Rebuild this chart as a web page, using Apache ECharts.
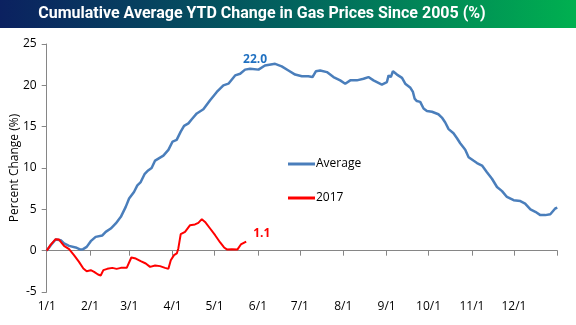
<!DOCTYPE html>
<html><head><meta charset="utf-8">
<script src="https://cdn.jsdelivr.net/npm/echarts@6/dist/echarts.min.js"></script>
<style>html,body{margin:0;padding:0;background:#fff}#c{width:576px;height:325px}</style>
</head><body><div id="c"></div>
<script>
// Day-of-year positions (0 = Jan 1) and values (%)
var avgDays = [0,2.9,6.4,10,12.4,16,20.7,23.8,26,28.6,31.5,35,39.8,42.2,45.8,49.4,53,56.5,58.9,62.4,64.8,67.2,70.1,72.5,75,77.5,83.4,87,90,92.9,95.8,98.2,101.3,103.7,107.3,112,116.8,121.6,126.3,129.9,134.7,138.3,141.8,145.4,151.4,156,163.3,168,172.8,177.6,182.4,187,190,192.4,195.5,200.3,205,209.8,213.4,217,221.7,226.5,230,233.6,239.6,243.2,244.4,246,247.5,250.4,254,256.3,260,261.8,263,264.6,267,269.4,271.8,273,275.4,280,282.5,284.9,287.3,290.8,293.3,295.6,299.2,301.6,305,307.6,311.2,314.7,318.3,321.9,325.5,329,333.8,338.6,342,345.8,349.3,352.9,356.4,360,363.5,365];
var avgVals = [0,0.66,1.35,1.27,0.87,0.58,0.39,0.15,0.18,0.46,1.15,1.67,1.84,2.27,2.68,3.29,4.09,5.3,6.3,7.1,7.9,8.3,9.3,9.7,10.0,10.9,11.5,12.2,13.2,13.4,14.4,15.1,15.4,15.9,16.6,17.1,18.2,19.2,20.0,20.2,21.2,21.4,21.9,22.0,21.9,22.4,22.6,22.3,21.8,21.3,21.1,21.1,21.0,21.7,21.8,21.6,21.0,20.6,20.2,20.6,20.6,20.8,21.0,20.6,20.1,20.4,21.2,21.0,21.7,21.3,20.9,20.2,19.7,19.2,18.4,18.1,18.0,17.2,16.9,17.1,16.8,16.5,16.1,15.5,14.7,14.2,13.6,13.0,12.2,11.3,10.9,10.6,10.3,9.5,8.7,7.7,7.2,6.5,6.1,6.0,5.7,5.0,4.7,4.3,4.3,4.4,5.1,5.2];
var ytdDays = [0,2.9,6.4,8.8,12.4,16,19.5,23.1,26.2,28.6,31.5,33.9,36.7,38.6,40.5,43.3,46.9,50,53,57.2,60.5,63.7,67.2,70.8,73.9,77.5,81,84.6,87,88.7,91,93,94.1,95.8,98.9,102.5,106,108.4,110.9,113.2,116.8,120.4,124,126.8,128.8,132.3,136.4,138.8,142.6];
var ytdVals = [0,0.73,1.39,1.35,0.58,0.18,-0.54,-1.35,-2.15,-2.48,-2.36,-2.56,-2.88,-3.0,-2.36,-2.2,-2.08,-2.2,-2.08,-2.08,-0.83,-0.95,-1.27,-1.55,-1.96,-1.79,-1.87,-2.08,-2.2,-1.15,-0.54,-0.34,0.27,2.0,2.27,3.08,3.17,3.36,3.81,3.48,2.68,1.87,0.99,0.39,0.15,0.18,0.15,0.75,1.1];
var monthDays = [0,31,59,90,120,151,181,212,243,273,304,334];
var monthLabels = ['1/1','2/1','3/1','4/1','5/1','6/1','7/1','8/1','9/1','10/1','11/1','12/1'];
var yTicks = [-5,0,5,10,15,20,25];
var avgLabelDay = 145.4;

var font = 'Open Sans';
var chart = echarts.init(document.getElementById('c'), null, {renderer:'canvas'});
var avgData = avgDays.map(function(d,i){
  var p = {value:[d, avgVals[i]]};
  if (d === avgLabelDay) p.label = {show:true, position:'top', distance:3, offset:[5,0], formatter:function(x){return x.value[1].toFixed(1);}, color:'#1f70c1', fontWeight:'bold', fontSize:12, fontFamily:font};
  return p;
});
var ytdData = ytdDays.map(function(d,i){
  var p = {value:[d, ytdVals[i]]};
  if (i === ytdDays.length-1) p.label = {show:true, position:'right', distance:7, offset:[0,-8], formatter:function(x){return x.value[1].toFixed(1);}, color:'#ff0000', fontWeight:'bold', fontSize:12, fontFamily:font};
  return p;
});
chart.setOption({
  animation:false,
  backgroundColor:'#fff',
  graphic:[
    {type:'rect', left:0, top:0, shape:{width:576, height:28}, style:{fill:new echarts.graphic.LinearGradient(0,0,1,0,[{offset:0,color:'#0b2160'},{offset:0.5,color:'#02625e'},{offset:1,color:'#00b050'}])}},
    {type:'text', x:262, y:14, style:{text:'Cumulative Average YTD Change in Gas Prices Since 2005 (%)', fill:'#fff', font:'bold 16px Roboto', textAlign:'center', textVerticalAlign:'middle'}}
  ],
  legend:{orient:'vertical', left:283, top:153, itemWidth:27, itemHeight:3, itemGap:22, icon:'rect',
    textStyle:{color:'#000', fontSize:12, fontFamily:font, padding:[0,0,0,-4]},
    data:['Average','2017']},
  grid:{left:46.7, right:18.7, top:44, bottom:33, containLabel:false, outerBoundsMode:'none'},
  xAxis:[
    {type:'value', min:0, max:365, axisLine:{onZero:true, lineStyle:{color:'#868686', width:1}},
     axisTick:{show:true, length:5, customValues:monthDays.concat([365]), lineStyle:{color:'#868686'}},
     axisLabel:{show:false}, splitLine:{show:false}},
    {type:'value', min:0, max:365, position:'bottom', axisLine:{show:false, onZero:false}, axisTick:{show:false},
     axisLabel:{show:true, customValues:monthDays, formatter:function(v){return monthLabels[monthDays.indexOf(v)];}, color:'#000', fontSize:12, fontFamily:font, margin:9},
     splitLine:{show:false}}
  ],
  yAxis:{type:'value', min:-5, max:25, interval:5,
    name:'Percent Change (%)', nameLocation:'middle', nameGap:26, nameMoveOverlap:false, nameTextStyle:{color:'#000', fontSize:12, fontFamily:font},
    axisLine:{show:true, lineStyle:{color:'#868686'}}, axisTick:{show:true, length:5, lineStyle:{color:'#868686'}},
    axisLabel:{color:'#000', fontSize:12, fontFamily:font, margin:10}, splitLine:{show:false}},
  series:[
    {name:'Average', type:'line', xAxisIndex:0, data:avgData, symbol:'circle', symbolSize:0, showSymbol:true, showAllSymbol:true,
     lineStyle:{color:'#4a7ebb', width:2.5}, itemStyle:{color:'#4a7ebb'}},
    {name:'2017', type:'line', xAxisIndex:0, data:ytdData, symbol:'circle', symbolSize:0, showSymbol:true, showAllSymbol:true,
     lineStyle:{color:'#ff0000', width:2}, itemStyle:{color:'#ff0000'}}
  ]
});
</script></body></html>
